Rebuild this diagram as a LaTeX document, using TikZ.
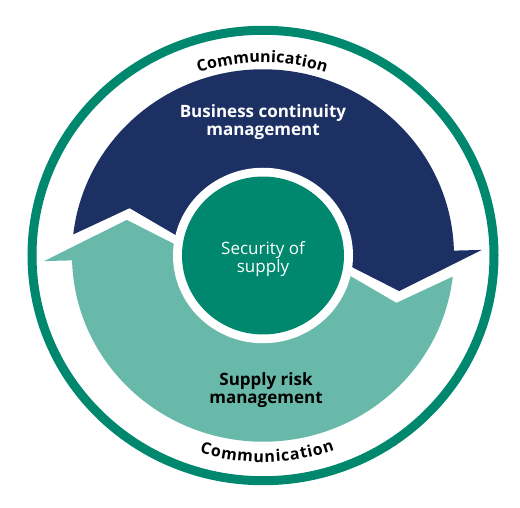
\documentclass[tikz,border=0pt]{standalone}
\usepackage{fontspec}
\setmainfont{Open Sans}
\usetikzlibrary{decorations.text}
\definecolor{navy}{HTML}{1C3064}
\definecolor{lteal}{HTML}{69B9AA}
\definecolor{dgreen}{HTML}{00886E}
\begin{document}
\begin{tikzpicture}[x=1pt,y=1pt,
  label/.style={align=center, font=\fontsize{17}{17.5}\selectfont\bfseries, inner sep=0pt},
  curvetext/.style={decorate, decoration={text along path, text align={fit to path},
     text={|\fontsize{16}{16}\selectfont\bfseries|Communication}}}]
\useasboundingbox (0,0) rectangle (520,507);
\begin{scope}[shift={(263,251.5)}, yscale=0.975]
  \coordinate (c) at (0,0);
  \draw[dgreen, line width=9pt] (c) circle[radius=231];
  \fill[navy] (173.5:191) arc[start angle=173.5, end angle=1.5, radius=191]
     -- (1.5:219) -- (-15:141) -- (1.5:63) -- (-43,-5.6) -- (160:142) -- cycle;
  \begin{scope}[rotate=180]
  \fill[lteal] (173.5:191) arc[start angle=173.5, end angle=1.5, radius=191]
     -- (1.5:219) -- (-15:141) -- (1.5:63) -- (-43,-5.6) -- (160:142) -- cycle;
  \end{scope}
  \fill[white] (c) circle[radius=90];
  \fill[dgreen] (c) circle[radius=81];
  \path[curvetext] (109:198) arc[start angle=109, end angle=71.5, radius=198];
  \path[curvetext] (252.6:212) arc[start angle=252.6, end angle=289.7, radius=212];
\end{scope}
\node[label, text=white] (bcm) at (263,385) {Business continuity\\management};
\node[label, text=black] (srm) at (266,117) {Supply risk\\management};
\node[label, text=white, font=\fontsize{17}{17.5}\selectfont] (sos) at (263,248) {Security of\\supply};
\end{tikzpicture}
\end{document}
